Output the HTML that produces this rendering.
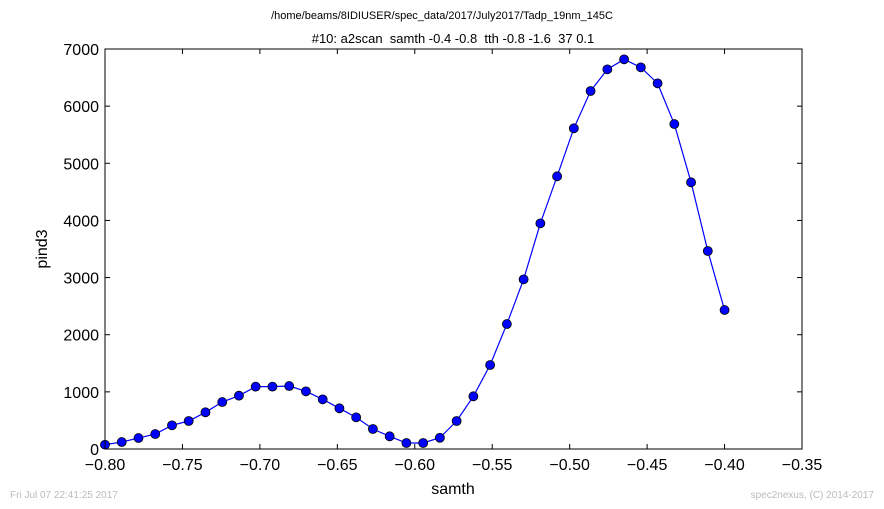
<!DOCTYPE html>
<html><head><meta charset="utf-8"><style>
body{margin:0;background:#fff;}
svg{display:block;font-family:"Liberation Sans","DejaVu Sans",sans-serif;}
</style></head><body>
<svg id="chart" width="884" height="509" viewBox="0 0 884 509" xmlns="http://www.w3.org/2000/svg">
<rect width="884" height="509" fill="#fff"/>
<text x="442" y="19" font-size="11" text-anchor="middle">/home/beams/8IDIUSER/spec_data/2017/July2017/Tadp_19nm_145C</text>
<text x="453" y="43" font-size="13" text-anchor="middle" xml:space="preserve">#10: a2scan  samth -0.4 -0.8  tth -0.8 -1.6  37 0.1</text>
<g id="grid"></g>
<g id="series"></g>
<rect x="105" y="49" width="697" height="400" fill="none" stroke="#000" stroke-width="1"/>
<g id="ticks"></g>
<text x="453" y="494" font-size="16" text-anchor="middle">samth</text>
<text x="47" y="249" font-size="16" text-anchor="middle" transform="rotate(-90 47 249)">pind3</text>
<text x="10" y="498" font-size="10" fill="#bbb">Fri Jul 07 22:41:25 2017</text>
<text x="874" y="498" font-size="10" fill="#bbb" text-anchor="end">spec2nexus, (C) 2014-2017</text>
</svg>
<script>
const xStart = -0.8;
const xEnd = -0.4;
const pind3 = [75,122,192,262,414,490,642,822,933,1091,1091,1102,1009,869,712,554,350,222,105,105,197,490,922,1470,2187,2969,3949,4772,5612,6265,6644,6819,6679,6399,5687,4667,3465,2432];
const xTicks = [-0.80,-0.75,-0.70,-0.65,-0.60,-0.55,-0.50,-0.45,-0.40,-0.35];
const yTicks = [0,1000,2000,3000,4000,5000,6000,7000];
const NS='http://www.w3.org/2000/svg';
const X0=105,X1=802,Y0=449,Y1=49;
const sx=v=>X0+(v-(-0.8))/(0.45)*(X1-X0);
const sy=v=>Y0-(v/7000)*(Y0-Y1);
const xs=pind3.map((_,i)=>xStart+(xEnd-xStart)*i/(pind3.length-1));
const ticks=document.getElementById('ticks');
function mk(tag,attrs,parent){const e=document.createElementNS(NS,tag);for(const k in attrs)e.setAttribute(k,attrs[k]);parent.appendChild(e);return e;}
xTicks.forEach(t=>{
  const x=sx(t);
  const a=mk('line',{x1:x,x2:x,y1:Y0,y2:Y0-5,stroke:'#000'},ticks);
  
  
  const b=mk('line',{x1:x,x2:x,y1:Y1,y2:Y1+5,stroke:'#000'},ticks);
  
  
  const l=mk('text',{x:x,y:470,'font-size':16,'text-anchor':'middle'},ticks);
  l.textContent=t.toFixed(2).replace('-','\u2212');
  
  
});
yTicks.forEach(t=>{
  const y=sy(t);
  const a=mk('line',{x1:X0,x2:X0+5,y1:y,y2:y,stroke:'#000'},ticks);
  
  
  const b=mk('line',{x1:X1,x2:X1-5,y1:y,y2:y,stroke:'#000'},ticks);
  
  
  const l=mk('text',{x:X0-6,y:y+6,'font-size':16,'text-anchor':'end'},ticks);
  l.textContent=String(t);
  
  
});
const ser=document.getElementById('series');
const line=mk('polyline',{points:pind3.map((v,i)=>sx(xs[i])+','+sy(v)).join(' '),fill:'none',stroke:'#0000ff','stroke-width':1.2},ser);


pind3.forEach((v,i)=>{
  const c=mk('circle',{cx:sx(xs[i]),cy:sy(v),r:4.5,fill:'#0000ff',stroke:'#000','stroke-width':0.8},ser);
  
  
});
</script>
</body></html>
